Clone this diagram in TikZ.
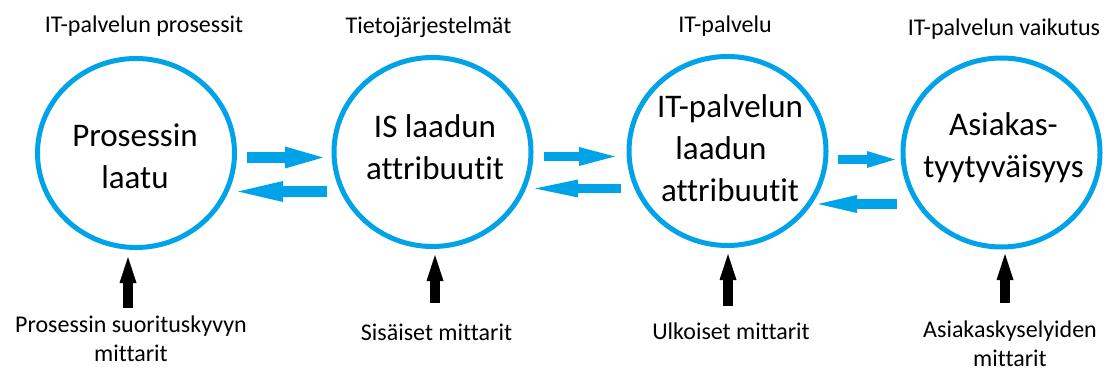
\documentclass[tikz,border=0pt]{standalone}
\usepackage{fontspec}
\setmainfont{Carlito}[Ligatures=NoCommon]
\usetikzlibrary{arrows.meta,shapes.geometric,calc}
\definecolor{ringblue}{RGB}{0,162,232}
% centred lines whose baseline is the baseline of the first line
\newcommand\stacked[1]{\vtop{\def\\{\cr}\halign{\hfil##\hfil\cr #1\crcr}}}

\begin{document}
\begin{tikzpicture}[x=1pt,y=-1pt,
  ring/.style={draw=ringblue, line width=5pt, ellipse, minimum width=197pt,
    minimum height=189pt, inner sep=0pt, outer sep=0pt},
  big/.style={font=\fontsize{33}{42}\selectfont, inner sep=0pt, anchor=base},
  small/.style={font=\fontsize{24}{29.5}\selectfont, inner sep=0pt, anchor=base},
  fat/.style n args={3}{draw=ringblue, line width=#3pt,
    -{Triangle[length=#1pt,width=#2pt,line width=0pt]}},
  up/.style={draw=black, line width=10pt,
    -{Triangle[length=26pt,width=17pt,line width=0pt]}}]

\fill[white] (0,0) rectangle (1107,371);
\useasboundingbox (0,0) rectangle (1107,371);

% quality circles
\node[ring] (c1) at (136,153) {};
\node[ring] (c2) at (432.5,152) {};
\node[ring] (c3) at (727.5,151) {};
\node[ring] (c4) at (1001.5,152.5) {};

\node[big] (q1) at (135,147) {\stacked{Prosessin\\laatu}};
\node[big] (q2) at (435,137.5) {\stacked{IS laadun\\attribuutit}};
\node[big] (q3) at (730,118) {\stacked{IT-palvelun\\laadun\hskip18pt\\attribuutit}};
\node[big] (q4) at (1003.5,136) {\stacked{Asiakas-\\tyytyväisyys}};

% headings
\node[small] (h1) at (144,33) {IT-palvelun prosessit};
\node[small] (h2) at (428.5,34) {Tietojärjestelmät};
\node[small] (h3) at (725,32.5) {IT-palvelu};
\node[small] (h4) at (1004,35.5) {IT-palvelun vaikutus};

% measures
\node[small] (m1) at (131,332) {\stacked{Prosessin suorituskyvyn\\mittarit}};
\node[small] (m2) at (436.5,340) {Sisäiset mittarit};
\node[small] (m3) at (731,339.5) {Ulkoiset mittarit};
\node[small] (m4) at (1010,337) {\stacked{Asiakaskyselyiden\\mittarit}};

% two-way links between the circles
\draw[fat={38}{22}{11}] ($(c1.east)+(12.5,4.5)$) -- ($(c2.west)+(-11,5.5)$);
\draw[fat={45}{21}{11}] ($(c2.west)+(-7,39.5)$) -- ($(c1.east)+(3.5,38.5)$);
\draw[fat={36}{19}{9.5}] ($(c2.east)+(13,4.5)$) -- ($(c3.west)+(-14,5.5)$);
\draw[fat={43}{18}{9}] ($(c3.west)+(-8,37.5)$) -- ($(c2.east)+(4,36.5)$);
\draw[fat={28}{17}{9}] ($(c3.east)+(12,8.5)$) -- ($(c4.west)+(-8,7)$);
\draw[fat={39}{18}{10}] ($(c4.west)+(-6,51.5)$) -- ($(c3.east)+(-8,53)$);

% measures pointing up into the circles
\coordinate (b1) at (128,308);
\coordinate (b2) at (435,303);
\coordinate (b3) at (728,306);
\coordinate (b4) at (1005,303);
\draw[up] (b1) -- ($(b1 |- c1.south)+(0,9.5)$);
\draw[up] (b2) -- ($(b2 |- c2.south)+(0,8.5)$);
\draw[up] (b3) -- ($(b3 |- c3.south)+(0,8.5)$);
\draw[up] (b4) -- ($(b4 |- c4.south)+(0,7)$);
\end{tikzpicture}
\end{document}
